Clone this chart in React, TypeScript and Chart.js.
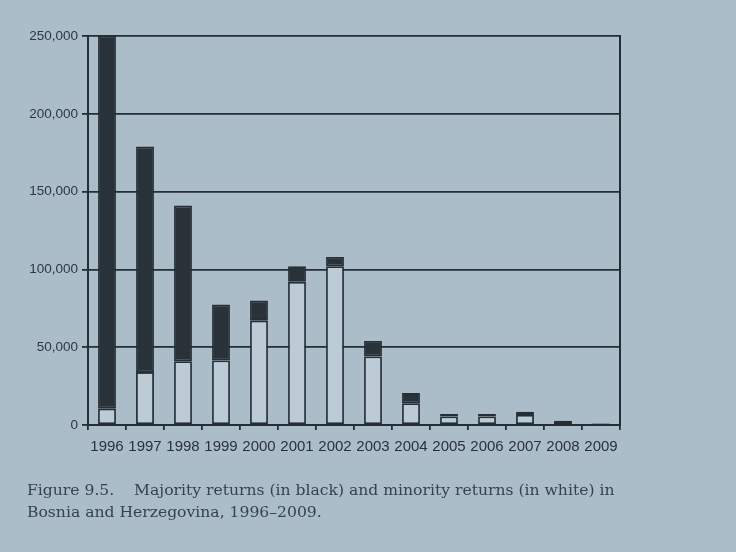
import React, { useEffect, useRef } from "react";
import { Chart, registerables } from "chart.js";

Chart.register(...registerables);

const years = ["1996", "1997", "1998", "1999", "2000", "2001", "2002", "2003", "2004", "2005", "2006", "2007", "2008", "2009"];
const minorityReturns = [10500, 34000, 41000, 41500, 67000, 92000, 102000, 44000, 14000, 5500, 5500, 6500, 2000, 800];
const majorityReturns = [239500, 145000, 100000, 36000, 13000, 10000, 6000, 10000, 6500, 1500, 1500, 2000, 800, 400];
const yTicks = [0, 50000, 100000, 150000, 200000, 250000];

const PAGE = "#acbdca";
const WHITE_BAR = "#bccbd6";
const INK = "#262e35";

export default function App() {
  const ref = useRef<HTMLCanvasElement>(null);

  useEffect(() => {
    if (!ref.current) return;
    const chart = new Chart(ref.current, {
      type: "bar",
      data: {
        labels: years,
        datasets: [
          {
            label: "Minority returns",
            data: minorityReturns,
            backgroundColor: WHITE_BAR,
            borderColor: INK,
            borderWidth: 1.8,
            borderSkipped: false,
            barPercentage: 0.47,
            categoryPercentage: 1,
          },
          {
            label: "Majority returns",
            data: majorityReturns,
            backgroundColor: "#2a3239",
            borderColor: INK,
            borderWidth: 1.8,
            borderSkipped: false,
            barPercentage: 0.47,
            categoryPercentage: 1,
          },
        ],
      },
      options: {
        responsive: false,
        animation: false,
        layout: { padding: { left: 0, right: 116, top: 36, bottom: 82 } },
        plugins: { legend: { display: false }, tooltip: { enabled: false } },
        scales: {
          x: {
            stacked: true,
            offset: true,
            grid: { offset: true, drawOnChartArea: false, drawTicks: true, tickLength: 5, color: INK, lineWidth: 1.8 },
            border: { display: true, color: INK, width: 2 },
            ticks: {
              color: "#2a3239",
              font: { family: "Liberation Sans", size: 15 },
              padding: 8,
              maxRotation: 0,
              autoSkip: false,
            },
            afterFit: (s: any) => { s.height = 45; },
          },
          y: {
            stacked: true,
            min: 0,
            max: 250000,
            afterBuildTicks: (s: any) => { s.ticks = yTicks.map((v) => ({ value: v })); },
            grid: { color: INK, lineWidth: 1.8, tickLength: 6 },
            border: { display: true, color: INK, width: 2 },
            ticks: {
              color: "#2e373f",
              font: { family: "Liberation Sans", size: 13.5 },
              padding: 4,
              callback: (v: any) => Number(v).toLocaleString("en-US"),
            },
            afterFit: (s: any) => { s.width = 88; },
          },
          y2: {
            position: "right",
            min: 0,
            max: 250000,
            grid: { drawOnChartArea: false, drawTicks: false },
            border: { display: true, color: INK, width: 2 },
            ticks: { display: false },
            afterFit: (s: any) => { s.width = 0; },
          },
        },
      },
    });
    return () => chart.destroy();
  }, []);

  return (
    <div style={{ position: "fixed", left: 0, top: 0, width: 736, height: 552, background: PAGE, overflow: "hidden" }}>
      <canvas ref={ref} width={736} height={552} style={{ position: "absolute", left: 0, top: 0, width: 736, height: 552 }} />
      <div
        style={{
          position: "absolute",
          left: 27,
          top: 479,
          fontFamily: "'DejaVu Serif', 'Liberation Serif', serif",
          fontSize: 15.6,
          lineHeight: "22px",
          color: "#36434e",
          whiteSpace: "pre",
        }}
      >
        {"Figure 9.5.    Majority returns (in black) and minority returns (in white) in\nBosnia and Herzegovina, 1996–2009."}
      </div>
    </div>
  );
}
